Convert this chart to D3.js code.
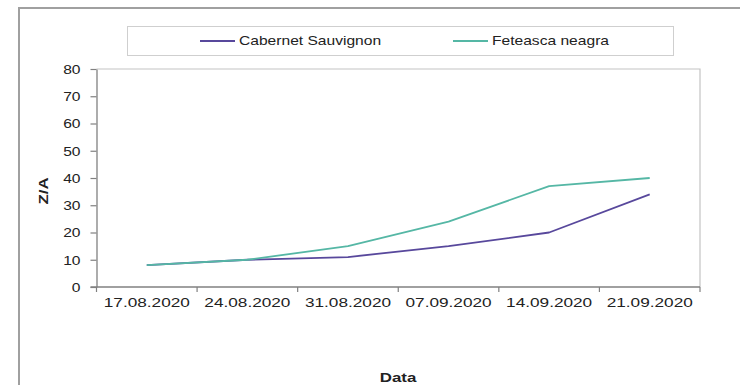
<!DOCTYPE html>
<html>
<head>
<meta charset="utf-8">
<script src="https://cdn.jsdelivr.net/npm/d3@7/dist/d3.min.js"></script>
<style>
  html, body { margin: 0; padding: 0; background: #fff; }
  svg { display: block; font-family: "Liberation Sans", Arial, sans-serif; }
</style>
</head>
<body>
<script>
const categories = ["17.08.2020", "24.08.2020", "31.08.2020", "07.09.2020", "14.09.2020", "21.09.2020"];
const cabernet = [8, 10, 11, 15, 20, 34];
const feteasca = [8, 10, 15, 24, 37, 40];
const yTicks = [0, 10, 20, 30, 40, 50, 60, 70, 80];
const seriesNames = ["Cabernet Sauvignon", "Feteasca neagra"];
const seriesColors = ["#58489c", "#55b7a5"];
const yLabel = "Z/A";
const xLabel = "Data";

const W = 740, H = 385;
const SX = 1.3; // horizontal text stretch seen in the reference
const svg = d3.select("body").append("svg").attr("width", W).attr("height", H);

// outer frame
svg.append("rect").attr("x", 19).attr("y", 8).attr("width", W).attr("height", H)
  .attr("fill", "#fff").attr("stroke", "#a0a0a0").attr("stroke-width", 2);

const plot = { left: 96.5, right: 700, top: 69, bottom: 287 };
const x = d3.scaleBand().domain(categories).range([plot.left, plot.right]).padding(0);
const y = d3.scaleLinear().domain([0, 80]).range([plot.bottom, plot.top]);

// plot area border (top & right)
svg.append("path")
  .attr("d", `M${plot.left},${plot.top}H${plot.right}V${plot.bottom}`)
  .attr("fill", "none").attr("stroke", "#c4c4c4").attr("stroke-width", 1.2);

// Y axis
const gy = svg.append("g").attr("transform", `translate(${plot.left},0)`)
  .call(d3.axisLeft(y).tickValues(yTicks).tickSize(6).tickSizeOuter(0));
gy.select(".domain").attr("stroke", "#808080").attr("stroke-width", 1.3);
gy.selectAll(".tick line").attr("stroke", "#808080").attr("stroke-width", 1.2);
gy.selectAll(".tick text")
  .attr("x", -16 / SX).attr("dy", "0.36em")
  .attr("transform", `scale(${SX},1)`)
  .attr("font-size", 12).attr("fill", "#222")
  .attr("font-family", "Liberation Sans, Arial, sans-serif");

// X axis (labels centered in categories, ticks at boundaries)
const gx = svg.append("g").attr("transform", `translate(0,${plot.bottom})`)
  .call(d3.axisBottom(x).tickSize(0).tickPadding(0).tickSizeOuter(0));
gx.select(".domain").remove();
gx.append("line").attr("x1", plot.left - 6).attr("x2", plot.right)
  .attr("stroke", "#808080").attr("stroke-width", 1.3);
gx.selectAll(".tick text")
  .attr("y", 20).attr("dy", 0)
  .attr("transform", `scale(${SX * 1.06},1)`)
  .attr("font-size", 12.5).attr("fill", "#222")
  .attr("font-family", "Liberation Sans, Arial, sans-serif");
const bounds = categories.map(c => x(c)).concat([x(categories[categories.length - 1]) + x.bandwidth()]);
gx.selectAll(".bt").data(bounds).enter().append("line")
  .attr("x1", d => d).attr("x2", d => d).attr("y1", 0).attr("y2", 5)
  .attr("stroke", "#808080").attr("stroke-width", 1.2);

// lines
const line = d3.line().x((d, i) => x(categories[i]) + x.bandwidth() / 2).y(d => y(d));
[cabernet, feteasca].forEach((s, k) => {
  svg.append("path").datum(s).attr("d", line)
    .attr("fill", "none").attr("stroke", seriesColors[k]).attr("stroke-width", 1.8)
    .attr("stroke-linejoin", "round");
});

// legend
const lg = svg.append("g");
lg.append("rect").attr("x", 127.5).attr("y", 26.5).attr("width", 546).attr("height", 29)
  .attr("fill", "#fff").attr("stroke", "#cfcfcf");
const legX = [200, 453];
seriesNames.forEach((n, k) => {
  lg.append("line").attr("x1", legX[k]).attr("x2", legX[k] + 35).attr("y1", 41).attr("y2", 41)
    .attr("stroke", seriesColors[k]).attr("stroke-width", 2);
  lg.append("text").attr("transform", `translate(${legX[k] + 39},45) scale(${SX},1)`)
    .attr("font-size", 12).attr("fill", "#222").text(n);
});

// axis titles
svg.append("text").attr("transform", `translate(48,191) rotate(-90) scale(${SX},1)`)
  .attr("text-anchor", "middle").attr("font-size", 13).attr("font-weight", "bold")
  .attr("fill", "#222").text(yLabel);
svg.append("text").attr("transform", `translate(398,382) scale(${SX},1)`)
  .attr("text-anchor", "middle").attr("font-size", 13).attr("font-weight", "bold")
  .attr("fill", "#222").text(xLabel);
</script>
</body>
</html>
